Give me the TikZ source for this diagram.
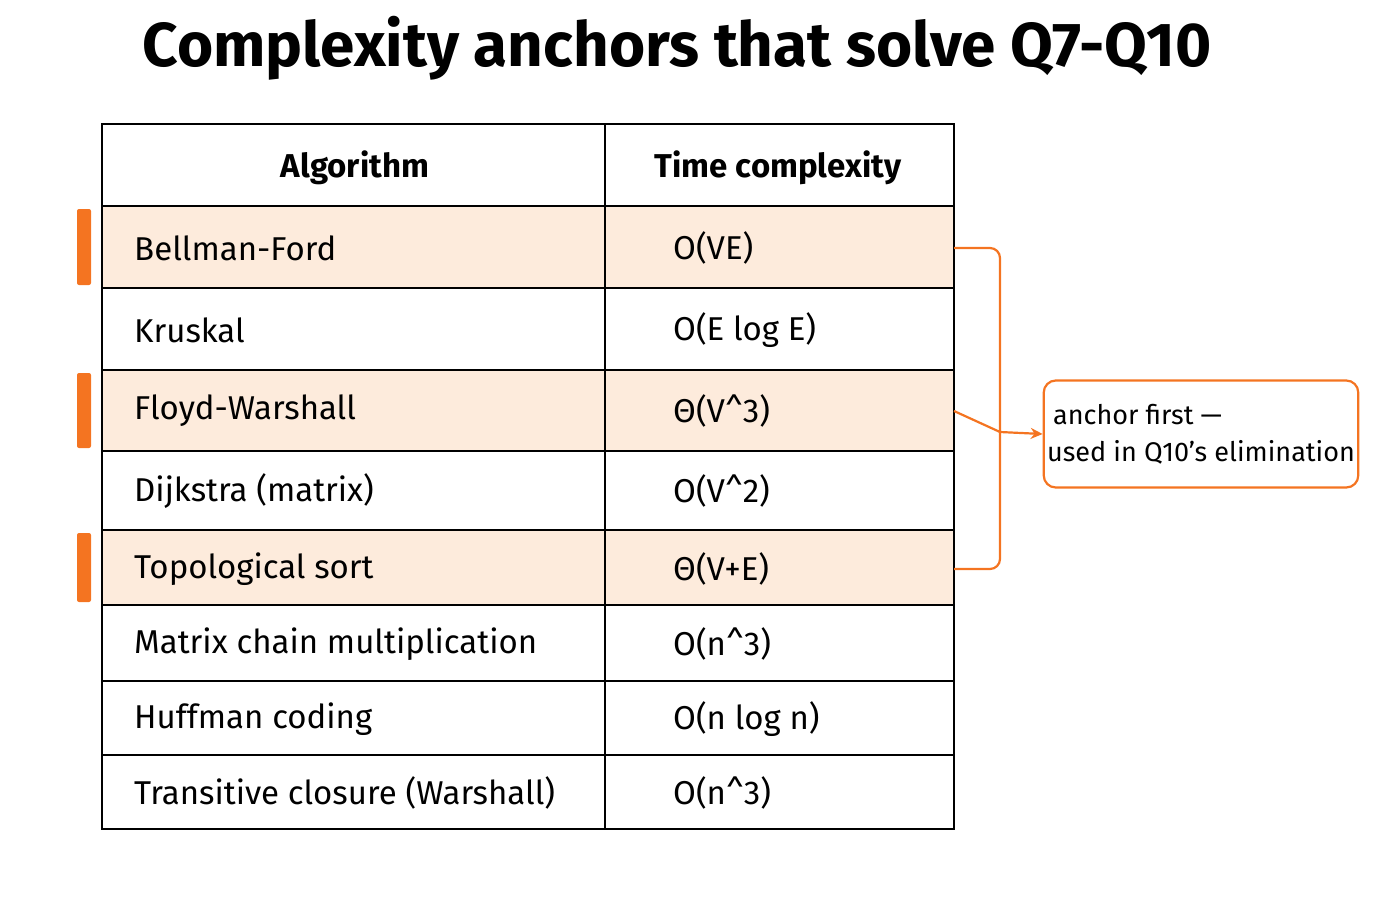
\documentclass[tikz,border=0pt]{standalone}
\usepackage{fontspec}
\setmainfont{Fira Sans}
\usetikzlibrary{arrows.meta}
\definecolor{accent}{HTML}{F47421}
\definecolor{peach}{HTML}{FDEBDC}
\begin{document}
\begin{tikzpicture}[x=1pt,y=-1pt]
  \tikzset{cell/.style = {anchor=west,font=\fontsize{33}{36}\selectfont,inner sep=0pt}}
  \tikzset{head/.style = {font=\bfseries\fontsize{33}{36}\selectfont,inner sep=0pt}}
  \tikzset{edge/.style = {accent,line width=2.2pt,rounded corners=10pt}}
  \useasboundingbox (0,0) rectangle (1400,900);

  \node[font=\bfseries\fontsize{62}{66}\selectfont] (title) at (677,48) {Complexity anchors that solve Q7-Q10};

  % highlighted rows
  \foreach \t/\b in {206/288,370/451,530/605}{
    \fill[peach] (102,\t) rectangle (954,\b);
    \fill[accent,rounded corners=2pt] (77,\t+3) rectangle (91,\b-3);
  }

  % grid
  \draw[line width=1.8pt] (102,124) rectangle (954,829);
  \draw[line width=1.8pt] (605,124) -- (605,829);
  \foreach \y in {206,288,370,451,530,605,681,755}
    \draw[line width=1.8pt] (102,\y) -- (954,\y);

  \node[head] (halg) at (355,168) {Algorithm};
  \node[head] (htime) at (778,168) {Time complexity};

  \foreach \y/\a/\c [count=\i] in {
    248/Bellman-Ford/O(VE),
    330/Kruskal/O(E log E),
    411/Floyd-Warshall/Θ(V\textasciicircum3),
    491/Dijkstra (matrix)/O(V\textasciicircum2),
    569/Topological sort/Θ(V+E),
    644/Matrix chain multiplication/O(n\textasciicircum3),
    719/Huffman coding/O(n log n),
    793/Transitive closure (Warshall)/O(n\textasciicircum3)}{
    \node[cell] (alg\i) at (134,\y) {\a};
    \node[cell] (time\i) at (673,\y) {\c};
    \coordinate (edge\i) at (954,\y);
  }

  \node[draw=accent,line width=2.2pt,rounded corners=12pt,minimum width=298pt,minimum height=107pt,
        align=left,font=\fontsize{27}{37}\selectfont] (note) at (1201,434)
        {\hspace*{6pt}anchor first —\\used in Q10's elimination};

  \coordinate (join) at (1000,432);
  \draw[edge] (edge1) -| (join);
  \draw[edge] (edge5) -| (join);
  \draw[edge] (edge3) -- (join);
  \draw[accent,line width=2.2pt,-{Stealth[length=12pt,width=11pt]}] (join) -- (note.west);
\end{tikzpicture}
\end{document}
